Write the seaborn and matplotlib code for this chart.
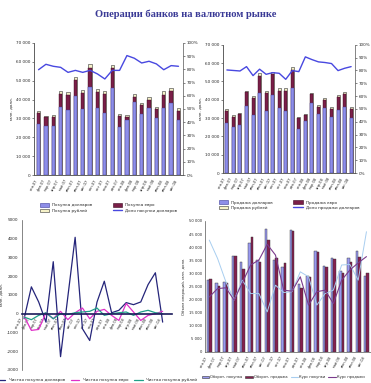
import numpy as np
import pandas as pd
import matplotlib
matplotlib.use("Agg")
import matplotlib.pyplot as plt
import seaborn as sns
from matplotlib.patches import Patch
from matplotlib.lines import Line2D

sns.set_theme(style="white")
plt.rcParams['font.family'] = ['DejaVu Sans']

title = "Операции банков на валютном рынке"
months = ["янв.07", "фев.07", "мар.07", "апр.07", "май.07", "июн.07", "июл.07",
          "авг.07", "сен.07", "окт.07", "ноя.07", "дек.07", "янв.08", "фев.08",
          "мар.08", "апр.08", "май.08", "июн.08", "июл.08", "авг.08"]

# top-left: purchases (млн. долл.)
buy_usd = [27000, 26000, 26200, 36300, 34200, 42000, 35100, 46600, 35300, 32800,
           46000, 25700, 28900, 38500, 32400, 35600, 30300, 35400, 38100, 28900]
buy_eur = [5800, 4500, 4800, 6700, 8300, 8500, 8300, 10100, 8800, 10200,
           10700, 5700, 2100, 3100, 4800, 4300, 4600, 7100, 6200, 4800]
buy_rub = [1200, 900, 1000, 1300, 1500, 1500, 1400, 2100, 1400, 1500,
           1800, 1000, 900, 1300, 900, 1400, 1100, 1800, 1800, 1700]
buy_share = [79.7, 83.8, 82.3, 81.5, 77.7, 79.2, 77.7, 79.2, 76.5, 72.7,
             79.2, 79.2, 90.4, 88.4, 84.8, 86.1, 84.1, 79.7, 82.8, 82.3]

# top-right: sales
sell_usd = [27600, 24900, 26500, 36600, 31600, 43500, 34000, 42600, 35600, 34000,
            46300, 24300, 28500, 38000, 32000, 35300, 30700, 34400, 35800, 30300]
sell_eur = [6400, 5800, 5700, 7500, 9200, 9700, 9500, 11500, 9200, 10800,
            10000, 5500, 3100, 5000, 4200, 4600, 4200, 7300, 7200, 4600]
sell_rub = [900, 900, 700, 900, 1400, 1600, 1300, 1300, 1500, 1500,
            1800, 900, 900, 900, 900, 1200, 900, 900, 1400, 1300]
sell_share = [80.4, 80.0, 79.6, 83.0, 76.0, 81.0, 77.0, 78.3, 77.8, 73.1,
              79.9, 79.1, 90.6, 88.5, 86.7, 86.2, 85.4, 79.9, 81.7, 83.0]

# bottom-left: net purchases
net_usd = [-270, 1430, 625, -450, 2770, -2290, 900, 4070, -800, -1430,
           620, 1730, 50, 180, 590, 480, 625, 1550, 2180, -450]
net_eur = [-140, -890, -840, 50, -270, 125, -320, 50, 300, -270,
           125, 230, -90, -360, 540, 90, -360, -90, 0, 125]
net_rub = [-180, -320, -90, 50, -270, 0, -40, 50, 90, 125,
           300, -90, 0, 50, 90, -90, 90, 180, 50, 0]

# bottom-right: turnover
turn_a = [27400, 26400, 26800, 36600, 34400, 41700, 35100, 46900, 35300, 32500,
          46400, 25900, 29100, 38500, 32800, 36000, 30900, 36000, 38500, 29100]
turn_b = [27800, 25300, 26500, 36700, 31600, 44000, 34400, 42700, 35700, 34100,
          46200, 24600, 28800, 38300, 32300, 35500, 30200, 34200, 36400, 30200]
line_a = [42700, 35700, 26800, 19800, 27400, 22300, 22300, 15300, 25500, 22700,
          23000, 30600, 28700, 17900, 22300, 23600, 33200, 33400, 27400, 45900]
line_b = [21000, 24200, 24500, 19800, 26500, 33200, 35100, 41100, 37000, 23600,
          23200, 28700, 17900, 23000, 23600, 18500, 27400, 31300, 34000, 36400]

C_BLUE = "#8e8ee8"
C_BLUE_E = "#3c3c9c"
C_MAR = "#7a1f48"
C_CREAM = "#f6f2c8"
C_LINE = "#4848e0"
TFS = 3.0

fig = plt.figure(figsize=(3.71, 3.83), dpi=100)
fig.patch.set_facecolor("white")
fig.text(0.5, 0.962, title, ha="center", va="center", fontsize=7.6,
         fontweight="bold", color="#3a3a96", family=["Liberation Serif"])


def stacked(rect, usd, eur, rub, share, labels, ylab):
    ax = fig.add_axes(rect)
    df = pd.DataFrame({"m": months, "usd": usd, "eur": eur, "rub": rub})
    df["c2"] = df["usd"] + df["eur"]
    df["c3"] = df["c2"] + df["rub"]
    sns.barplot(data=df, x="m", y="c3", color=C_CREAM, width=0.45, errorbar=None,
                edgecolor="#333333", linewidth=0.4, saturation=1, ax=ax)
    sns.barplot(data=df, x="m", y="c2", color=C_MAR, width=0.45, errorbar=None,
                edgecolor="#3a0a20", linewidth=0.3, saturation=1, ax=ax)
    sns.barplot(data=df, x="m", y="usd", color=C_BLUE, width=0.45, errorbar=None,
                edgecolor=C_BLUE_E, linewidth=0.3, saturation=1, ax=ax)
    ax.set_ylim(0, 70000)
    yt = np.arange(0, 70001, 10000)
    ax.set_yticks(yt)
    ax.set_yticklabels([f"{v:,}".replace(",", " ") for v in yt], fontsize=TFS)
    ax.set_xticks(range(len(months)))
    ax.set_xticklabels(months, rotation=60, ha="right", fontsize=TFS - 0.4)
    ax.set_xlabel("")
    ax.set_ylabel(ylab, fontsize=TFS, labelpad=2)
    ax.tick_params(length=1.5, width=0.4, pad=1)
    ax2 = ax.twinx()
    sns.lineplot(x=np.arange(len(share)), y=share, color=C_LINE, lw=1.0, ax=ax2)
    ax2.set_ylim(0, 100)
    pt = np.arange(0, 101, 10)
    ax2.set_yticks(pt)
    ax2.set_yticklabels([f"{v}%" for v in pt], fontsize=TFS)
    ax2.tick_params(length=1.5, width=0.4, pad=1)
    ax.set_xlim(-0.6, len(months) - 0.4)
    for a in (ax, ax2):
        a.spines["top"].set_visible(False)
        for s in ("left", "right", "bottom"):
            a.spines[s].set_linewidth(0.5)
            a.spines[s].set_color("#555555")
    ax.spines["right"].set_visible(False)
    handles = [Patch(facecolor=C_BLUE, edgecolor=C_BLUE_E, lw=0.4),
               Patch(facecolor=C_CREAM, edgecolor="#333333", lw=0.4),
               Patch(facecolor=C_MAR, edgecolor="#3a0a20", lw=0.4),
               Line2D([], [], color=C_LINE, lw=1.0)]
    ax.legend(handles, labels, ncol=2, loc="upper center",
              bbox_to_anchor=(0.5, -0.2), frameon=False, fontsize=TFS,
              handlelength=2.2, handleheight=0.9, columnspacing=5,
              labelspacing=0.3, borderaxespad=0)
    return ax


stacked([0.092, 0.543, 0.401, 0.345], buy_usd, buy_eur, buy_rub, buy_share,
        ["Покупка долларов", "Покупка рублей", "Покупка евро",
         "Доля покупки долларов"], "млн. долл.")
stacked([0.601, 0.548, 0.356, 0.335], sell_usd, sell_eur, sell_rub, sell_share,
        ["Продажа долларов", "Продажа рублей", "Продажа евро",
         "Доля продажи долларов"], "млн. долл.")

# bottom-left: net purchases lines
ax3 = fig.add_axes([0.059, 0.034, 0.405, 0.392])
x = np.arange(len(months))
ax3.spines["bottom"].set_position(("data", 0))
dfl = pd.DataFrame({"x": np.tile(x, 3),
                    "v": net_usd + net_eur + net_rub,
                    "s": ["Чистая покупка долларов"] * 20 + ["Чистая покупка евро"] * 20
                         + ["Чистая покупка рублей"] * 20})
sns.lineplot(data=dfl, x="x", y="v", hue="s",
             palette=["#25257a", "#e030c8", "#20a088"], lw=0.9, ax=ax3,
             legend=False)
ax3.set_ylim(-3000, 5000)
yt = np.arange(-3000, 5001, 1000)
ax3.set_yticks(yt)
ax3.set_yticklabels([str(v) for v in yt], fontsize=TFS)
ax3.set_xlim(-0.3, 20.3)
ax3.set_xticks(x)
ax3.set_xticklabels(months, rotation=60, ha="right", fontsize=TFS - 0.5)
ax3.spines["bottom"].set_linewidth(1.2)
ax3.spines["bottom"].set_color("#1a1a5a")
ax3.spines["left"].set_linewidth(0.5)
ax3.spines["left"].set_color("#555555")
ax3.spines["top"].set_visible(False)
ax3.spines["right"].set_visible(False)
ax3.tick_params(length=1.5, width=0.4, pad=1)
ax3.set_xlabel("")
ax3.set_ylabel("млн. долл.", fontsize=TFS, labelpad=2)
h3 = [Line2D([], [], color=c, lw=0.9) for c in ["#25257a", "#e030c8", "#20a088"]]
ax3.legend(h3, ["Чистая покупка долларов", "Чистая покупка евро",
                "Чистая покупка рублей"], ncol=3, loc="upper center",
           bbox_to_anchor=(0.5, -0.045), frameon=False, fontsize=TFS,
           handlelength=2, columnspacing=1.5, borderaxespad=0)

# bottom-right: turnover bars + lines
ax4 = fig.add_axes([0.553, 0.081, 0.447, 0.342])
dfb = pd.DataFrame({"m": months * 2, "v": turn_a + turn_b,
                    "s": ["Оборот, покупка"] * 20 + ["Оборот, продажа"] * 20})
sns.barplot(data=dfb, x="m", y="v", hue="s", palette=["#9a9af0", "#85204e"],
            width=0.6, errorbar=None, saturation=1, edgecolor="#333333",
            linewidth=0.3, ax=ax4, legend=False)
sns.lineplot(x=x, y=line_a, color="#a8cef0", lw=0.7, ax=ax4)
sns.lineplot(x=x, y=line_b, color="#7a3a8c", lw=0.8, ax=ax4)
ax4.set_ylim(0, 50000)
yt = np.arange(0, 50001, 5000)
ax4.set_yticks(yt)
ax4.set_yticklabels([f"{v:,}".replace(",", " ") for v in yt], fontsize=TFS - 0.3)
ax4.set_xticks(x)
ax4.set_xticklabels(months, rotation=60, ha="right", fontsize=TFS - 0.5)
ax4.set_xlim(-0.5, 19.55)
ax4.set_xlabel("")
ax4.set_ylabel("Объем операций, млн. долл.", fontsize=TFS - 0.3, labelpad=2)
ax4.tick_params(length=1.5, width=0.4, pad=1)
ax4.spines["top"].set_visible(False)
ax4.spines["right"].set_visible(False)
for s in ("left", "bottom"):
    ax4.spines[s].set_linewidth(0.5)
    ax4.spines[s].set_color("#555555")
h4 = [Patch(facecolor="#9a9af0", edgecolor="#333333", lw=0.4),
      Patch(facecolor="#85204e", edgecolor="#333333", lw=0.4),
      Line2D([], [], color="#a8cef0", lw=0.8),
      Line2D([], [], color="#7a3a8c", lw=0.8)]
ax4.legend(h4, ["Оборот, покупка", "Оборот, продажа", "Курс покупки", "Курс продажи"],
           ncol=4, loc="upper center", bbox_to_anchor=(0.47, -0.165),
           frameon=False, fontsize=TFS - 0.4, handlelength=2.0, columnspacing=0.8,
           handletextpad=0.4, borderaxespad=0)

fig.savefig("out.png", dpi=100, facecolor="white")
